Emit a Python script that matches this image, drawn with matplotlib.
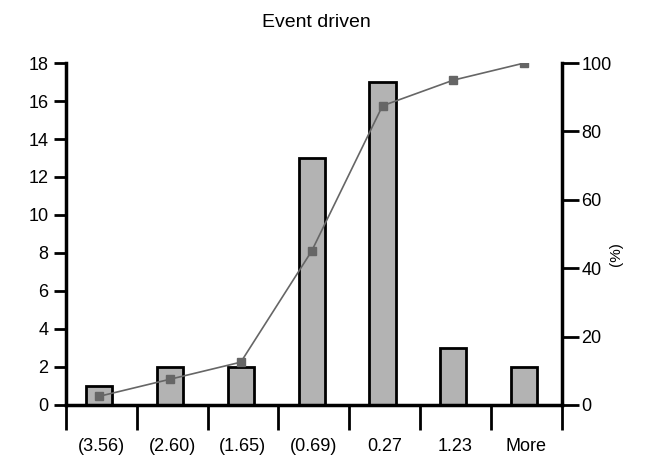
import matplotlib
matplotlib.use("Agg")
import matplotlib.pyplot as plt
import numpy as np

plt.rcParams['font.family'] = ['Liberation Sans Narrow', 'Liberation Sans', 'DejaVu Sans']

bins = ["(3.56)", "(2.60)", "(1.65)", "(0.69)", "0.27", "1.23", "More"]
counts = [1, 2, 2, 13, 17, 3, 2]
cum_pct = [2.5, 7.5, 12.5, 45.0, 87.5, 95.0, 100.0]

fig = plt.figure(figsize=(6.45, 4.67), dpi=100)
ax = fig.add_axes([0.102, 0.133, 0.769, 0.732])
x = np.arange(len(bins))

ax.bar(x - 0.03, counts, width=0.37, color="#b3b3b3", edgecolor="black", linewidth=2, zorder=2)
ax.set_xlim(-0.5, len(bins) - 0.5)
ax.set_ylim(0, 18)
ax.set_yticks(range(0, 19, 2))

# category boundaries as ticks, labels centred between them
ax.set_xticks(np.arange(len(bins) + 1) - 0.5)
ax.set_xticklabels([])
ax.set_xticks(x, minor=True)
ax.set_xticklabels(bins, minor=True)
ax.tick_params(axis="x", which="major", direction="out", length=18, width=2)
ax.tick_params(axis="x", which="minor", length=0, pad=24, labelsize=13)
ax.tick_params(axis="y", direction="out", length=9, width=2, labelsize=13)

for s in ["top", "right"]:
    ax.spines[s].set_visible(False)
ax.spines["left"].set_linewidth(2.5)
ax.spines["bottom"].set_linewidth(2.5)

ax2 = ax.twinx()
ax2.plot(x - 0.03, cum_pct, color="#666666", linewidth=1.2, marker="s", markersize=6, zorder=3)
ax2.set_ylim(0, 100)
ax2.set_yticks(range(0, 101, 20))
ax2.tick_params(axis="y", direction="out", length=12, width=2, labelsize=13, pad=2)
for s in ["top", "left", "bottom"]:
    ax2.spines[s].set_visible(False)
ax2.spines["right"].set_linewidth(2.5)
ax2.set_ylabel("(%)", fontsize=11)
ax2.yaxis.set_label_coords(1.095, 0.44)

fig.suptitle("Event driven", x=0.49, y=0.97, fontsize=14)

fig.savefig("out.png", dpi=100)
